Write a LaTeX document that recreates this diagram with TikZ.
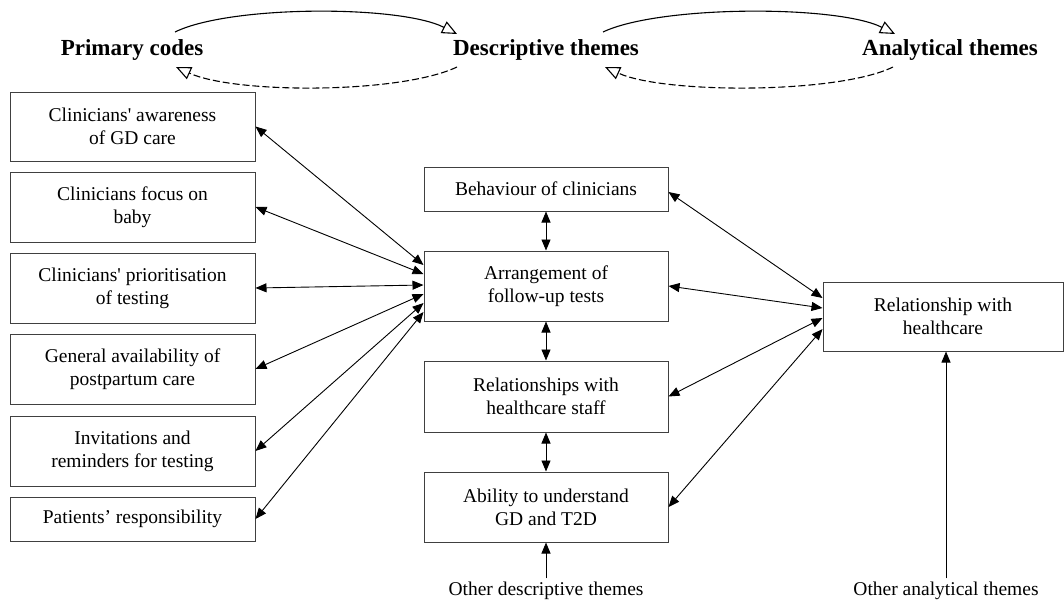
\documentclass[tikz,border=0pt]{standalone}
\usepackage{fontspec}
\setmainfont{Liberation Serif}[Ligatures=TeXOff]
\usetikzlibrary{arrows.meta,calc}
\begin{document}
\begin{tikzpicture}[x=1pt,y=-1pt,
  box/.style={draw=black!75,line width=1pt,inner sep=0pt,align=center,
    font=\fontsize{19.5}{23}\selectfont},
  lbox/.style={box,minimum width=245pt},
  cbox/.style={box,minimum width=244pt},
  head/.style={font=\fontsize{23}{27}\selectfont\bfseries,anchor=base,inner sep=0pt},
  plain/.style={font=\fontsize{19.5}{23}\selectfont,inner sep=0pt},
  link/.style={line width=0.9pt,{Triangle[length=11pt,width=9pt]}-{Triangle[length=11pt,width=9pt]}},
  oneway/.style={line width=0.9pt,-{Triangle[length=11pt,width=9pt]}},
  arcs/.style={line width=1.1pt,-{Triangle[open,length=15pt,width=13pt]}},
  arcd/.style={arcs,dash pattern=on 7pt off 3pt}]
\useasboundingbox (0,0) rectangle (1064,603);
% headings
\node[head] (pc) at (132,55) {Primary codes};
\node[head] (dt) at (546,55) {Descriptive themes};
\node[head] (at) at (950,55) {Analytical themes};
\coordinate (a1s) at (175,32); \coordinate (a1e) at (457,34);
\coordinate (a2s) at (457,67); \coordinate (a2e) at (176,67);
\coordinate (a3s) at (603,32); \coordinate (a3e) at (895,34);
\coordinate (a4s) at (893,67); \coordinate (a4e) at (605,67);
\draw[arcs] (a1s) .. controls (230,5) and (400,5) .. (a1e);
\draw[arcd] (a2s) .. controls (400,94) and (235,94) .. (a2e);
\draw[arcs] (a3s) .. controls (660,5) and (838,5) .. (a3e);
\draw[arcd] (a4s) .. controls (838,94) and (664,94) .. (a4e);
% left boxes
\node[lbox,minimum height=69pt] (b1) at (132.5,126.5) {Clinicians' awareness\\of GD care};
\node[lbox,minimum height=70pt] (b2) at (132.5,207) {Clinicians focus on\\baby};
\node[lbox,minimum height=70pt] (b3) at (132.5,288) {Clinicians' prioritisation\\of testing};
\node[lbox,minimum height=70pt] (b4) at (132.5,369) {General availability of\\postpartum care};
\node[lbox,minimum height=70pt] (b5) at (132.5,451) {Invitations and\\reminders for testing};
\node[lbox,minimum height=44pt] (b6) at (132.5,519) {Patients’ responsibility};
% centre boxes
\node[cbox,minimum height=44pt] (c1) at (546,189) {Behaviour of clinicians};
\node[cbox,minimum height=70pt] (c2) at (546,286) {Arrangement of\\follow-up tests};
\node[cbox,minimum height=71pt] (c3) at (546,396.5) {Relationships with\\healthcare staff};
\node[cbox,minimum height=70pt] (c4) at (546,507) {Ability to understand\\GD and T2D};
% right box
\node[box,minimum width=240pt,minimum height=69pt] (r) at (943,316.5) {Relationship with\\healthcare};
% bottom labels
\node[plain,anchor=base] (od) at (546,595) {Other descriptive themes};
\node[plain,anchor=base] (oa) at (946,595) {Other analytical themes};
% left links
\draw[link] (b1.east) -- ([yshift=21pt]c2.west);
\draw[link] (b2.east) -- ([yshift=12pt]c2.west);
\draw[link] (b3.east) -- ([yshift=1pt]c2.west);
\draw[link] (b4.east) -- ([yshift=-8pt]c2.west);
\draw[link] (b5.east) -- ([yshift=-17pt]c2.west);
\draw[link] (b6.east) -- ([yshift=-26pt]c2.west);
% centre vertical links
\draw[link] (c1.south) -- (c2.north);
\draw[link] (c2.south) -- (c3.north);
\draw[link] (c3.south) -- (c4.north);
% right links
\draw[link] ([yshift=-3pt]c1.east) -- ([yshift=18.5pt]r.west);
\draw[link] (c2.east) -- ([yshift=8.5pt]r.west);
\draw[link] (c3.east) -- ([yshift=-1.5pt]r.west);
\draw[link] (c4.east) -- ([yshift=-12.5pt]r.west);
% bottom arrows
\draw[oneway] ([yshift=3pt]od.north) -- (c4.south);
\draw[oneway] ([yshift=3pt]oa.north) -- (oa.north |- r.south);
\end{tikzpicture}
\end{document}
